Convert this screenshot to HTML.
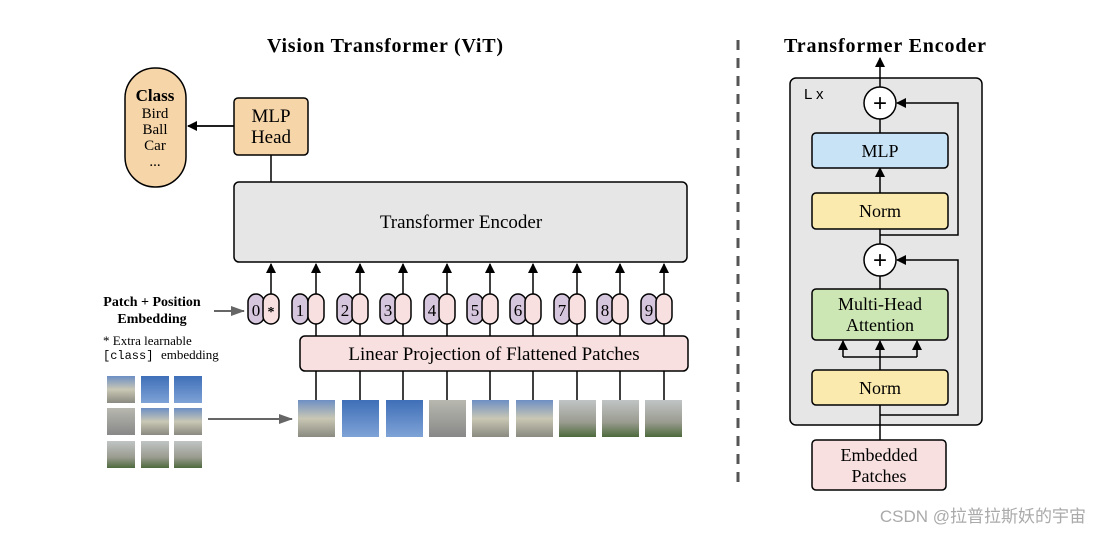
<!DOCTYPE html>
<html><head><style>
body{margin:0;background:#fff;}
svg{display:block;font-family:"Liberation Serif",serif;}
</style></head><body>
<svg width="1100" height="534" viewBox="0 0 1100 534" xmlns="http://www.w3.org/2000/svg">
<defs>
<marker id="a" markerWidth="10" markerHeight="10" refX="9" refY="5" orient="auto" markerUnits="userSpaceOnUse"><path d="M0,0 L10,5 L0,10 z" fill="#000"/></marker>
<marker id="g" markerWidth="14" markerHeight="10" refX="13" refY="5" orient="auto" markerUnits="userSpaceOnUse"><path d="M0,0 L14,5 L0,10 z" fill="#666"/></marker>
<linearGradient id="sky" x1="0" y1="0" x2="0" y2="1"><stop offset="0" stop-color="#3f6fb8"/><stop offset="1" stop-color="#7fa3d6"/></linearGradient>
<linearGradient id="bld" x1="0" y1="0" x2="0" y2="1"><stop offset="0" stop-color="#b8b8b0"/><stop offset="1" stop-color="#888"/></linearGradient>
<linearGradient id="mix" x1="0" y1="0" x2="0" y2="1"><stop offset="0" stop-color="#6d8fc4"/><stop offset="0.5" stop-color="#c9c7b4"/><stop offset="1" stop-color="#8a8a80"/></linearGradient>
<linearGradient id="grn" x1="0" y1="0" x2="0" y2="1"><stop offset="0" stop-color="#c0c4c4"/><stop offset="0.6" stop-color="#9a9c90"/><stop offset="1" stop-color="#4d6a3c"/></linearGradient>
</defs>

<text x="385" y="52" font-size="20" font-weight="bold" text-anchor="middle" textLength="236">Vision Transformer (ViT)</text>
<text x="885" y="52" font-size="20" font-weight="bold" text-anchor="middle" textLength="202">Transformer Encoder</text>
<line x1="738" y1="40" x2="738" y2="490" stroke="#555" stroke-width="3" stroke-dasharray="10,8"/>

<rect x="125" y="68" width="61" height="119" rx="30" fill="#f6d5a8" stroke="#000" stroke-width="1.5"/>
<text x="155" y="101" font-size="17" font-weight="bold" text-anchor="middle">Class</text>
<text x="155" y="118" font-size="15" text-anchor="middle">Bird</text>
<text x="155" y="134" font-size="15" text-anchor="middle">Ball</text>
<text x="155" y="150" font-size="15" text-anchor="middle">Car</text>
<text x="155" y="166" font-size="15" text-anchor="middle">...</text>

<rect x="234" y="98" width="74" height="57" rx="4" fill="#f6d5a8" stroke="#000" stroke-width="1.5"/>
<text x="271" y="122" font-size="19" text-anchor="middle">MLP</text>
<text x="271" y="143" font-size="19" text-anchor="middle">Head</text>
<line x1="234" y1="126" x2="188" y2="126" stroke="#000" stroke-width="1.8" marker-end="url(#a)"/>
<line x1="271" y1="155" x2="271" y2="182" stroke="#000" stroke-width="1.5"/>

<rect x="234" y="182" width="453" height="80" rx="5" fill="#e6e6e6" stroke="#000" stroke-width="1.5"/>
<text x="461" y="228" font-size="19" text-anchor="middle">Transformer Encoder</text>

<text x="152" y="306" font-size="14" font-weight="bold" text-anchor="middle">Patch + Position</text>
<text x="152" y="323" font-size="14" font-weight="bold" text-anchor="middle">Embedding</text>
<line x1="214" y1="311" x2="244" y2="311" stroke="#666" stroke-width="2" marker-end="url(#g)"/>
<text x="103" y="345" font-size="13">* Extra learnable</text>
<text x="103" y="359" font-size="12" font-family="Liberation Mono,monospace">[class]</text>
<text x="161" y="359" font-size="13">embedding</text>

<rect x="300" y="336" width="388" height="35" rx="5" fill="#f7e0df" stroke="#000" stroke-width="1.5"/>
<text x="494" y="360" font-size="19" text-anchor="middle">Linear Projection of Flattened Patches</text>

<g stroke="#000" stroke-width="1.5">
<rect x="248" y="294" width="16" height="30" rx="8" fill="#d5c5dd"/>
<rect x="263" y="294" width="16" height="30" rx="8" fill="#f7e0df"/>
<rect x="292" y="294" width="16" height="30" rx="8" fill="#d5c5dd"/><rect x="308" y="294" width="16" height="30" rx="8" fill="#f7e0df"/>
<rect x="337" y="294" width="16" height="30" rx="8" fill="#d5c5dd"/><rect x="352" y="294" width="16" height="30" rx="8" fill="#f7e0df"/>
<rect x="380" y="294" width="16" height="30" rx="8" fill="#d5c5dd"/><rect x="395" y="294" width="16" height="30" rx="8" fill="#f7e0df"/>
<rect x="424" y="294" width="16" height="30" rx="8" fill="#d5c5dd"/><rect x="439" y="294" width="16" height="30" rx="8" fill="#f7e0df"/>
<rect x="467" y="294" width="16" height="30" rx="8" fill="#d5c5dd"/><rect x="482" y="294" width="16" height="30" rx="8" fill="#f7e0df"/>
<rect x="510" y="294" width="16" height="30" rx="8" fill="#d5c5dd"/><rect x="525" y="294" width="16" height="30" rx="8" fill="#f7e0df"/>
<rect x="554" y="294" width="16" height="30" rx="8" fill="#d5c5dd"/><rect x="569" y="294" width="16" height="30" rx="8" fill="#f7e0df"/>
<rect x="597" y="294" width="16" height="30" rx="8" fill="#d5c5dd"/><rect x="612" y="294" width="16" height="30" rx="8" fill="#f7e0df"/>
<rect x="641" y="294" width="16" height="30" rx="8" fill="#d5c5dd"/><rect x="656" y="294" width="16" height="30" rx="8" fill="#f7e0df"/>
</g>
<text x="256" y="316" font-size="17" text-anchor="middle">0</text>
<text x="271" y="316" font-size="14" font-weight="bold" text-anchor="middle">*</text>
<g font-size="17" text-anchor="middle">
<text x="300" y="316">1</text><text x="345" y="316">2</text><text x="388" y="316">3</text><text x="432" y="316">4</text><text x="475" y="316">5</text><text x="518" y="316">6</text><text x="562" y="316">7</text><text x="605" y="316">8</text><text x="649" y="316">9</text>
</g>
<g stroke="#000" stroke-width="1.5">
<line x1="271" y1="294" x2="271" y2="264" marker-end="url(#a)"/>
<line x1="316" y1="294" x2="316" y2="264" marker-end="url(#a)"/>
<line x1="360" y1="294" x2="360" y2="264" marker-end="url(#a)"/>
<line x1="403" y1="294" x2="403" y2="264" marker-end="url(#a)"/>
<line x1="447" y1="294" x2="447" y2="264" marker-end="url(#a)"/>
<line x1="490" y1="294" x2="490" y2="264" marker-end="url(#a)"/>
<line x1="533" y1="294" x2="533" y2="264" marker-end="url(#a)"/>
<line x1="577" y1="294" x2="577" y2="264" marker-end="url(#a)"/>
<line x1="620" y1="294" x2="620" y2="264" marker-end="url(#a)"/>
<line x1="664" y1="294" x2="664" y2="264" marker-end="url(#a)"/>
<line x1="316" y1="324" x2="316" y2="336"/><line x1="360" y1="324" x2="360" y2="336"/><line x1="403" y1="324" x2="403" y2="336"/><line x1="447" y1="324" x2="447" y2="336"/><line x1="490" y1="324" x2="490" y2="336"/><line x1="533" y1="324" x2="533" y2="336"/><line x1="577" y1="324" x2="577" y2="336"/><line x1="620" y1="324" x2="620" y2="336"/><line x1="664" y1="324" x2="664" y2="336"/>
<line x1="316" y1="371" x2="316" y2="400"/><line x1="360" y1="371" x2="360" y2="400"/><line x1="403" y1="371" x2="403" y2="400"/><line x1="447" y1="371" x2="447" y2="400"/><line x1="490" y1="371" x2="490" y2="400"/><line x1="533" y1="371" x2="533" y2="400"/><line x1="577" y1="371" x2="577" y2="400"/><line x1="620" y1="371" x2="620" y2="400"/><line x1="664" y1="371" x2="664" y2="400"/>
</g>

<rect x="298" y="400" width="37" height="37" fill="url(#mix)"/>
<rect x="342" y="400" width="37" height="37" fill="url(#sky)"/>
<rect x="386" y="400" width="37" height="37" fill="url(#sky)"/>
<rect x="429" y="400" width="37" height="37" fill="url(#bld)"/>
<rect x="472" y="400" width="37" height="37" fill="url(#mix)"/>
<rect x="516" y="400" width="37" height="37" fill="url(#mix)"/>
<rect x="559" y="400" width="37" height="37" fill="url(#grn)"/>
<rect x="602" y="400" width="37" height="37" fill="url(#grn)"/>
<rect x="645" y="400" width="37" height="37" fill="url(#grn)"/>

<rect x="107" y="376" width="28" height="27" fill="url(#mix)"/>
<rect x="141" y="376" width="28" height="27" fill="url(#sky)"/>
<rect x="174" y="376" width="28" height="27" fill="url(#sky)"/>
<rect x="107" y="408" width="28" height="27" fill="url(#bld)"/>
<rect x="141" y="408" width="28" height="27" fill="url(#mix)"/>
<rect x="174" y="408" width="28" height="27" fill="url(#mix)"/>
<rect x="107" y="441" width="28" height="27" fill="url(#grn)"/>
<rect x="141" y="441" width="28" height="27" fill="url(#grn)"/>
<rect x="174" y="441" width="28" height="27" fill="url(#grn)"/>
<line x1="208" y1="419" x2="292" y2="419" stroke="#666" stroke-width="2" marker-end="url(#g)"/>

<rect x="790" y="78" width="192" height="347" rx="6" fill="#e6e6e6" stroke="#000" stroke-width="1.5"/>
<text x="804" y="99" font-size="15" font-family="Liberation Sans,sans-serif">L x</text>
<g stroke="#000" stroke-width="1.5">
<line x1="880" y1="78" x2="880" y2="58" marker-end="url(#a)"/>
<line x1="880" y1="87" x2="880" y2="78"/>
<line x1="880" y1="119" x2="880" y2="133"/>
<line x1="880" y1="193" x2="880" y2="168" marker-end="url(#a)"/>
<line x1="880" y1="229" x2="880" y2="244"/>
<polyline points="880,235 958,235 958,103 897,103" fill="none" marker-end="url(#a)"/>
<line x1="880" y1="276" x2="880" y2="289"/>
<polyline points="880,415 958,415 958,260 897,260" fill="none" marker-end="url(#a)"/>
<line x1="880" y1="440" x2="880" y2="405"/>
<line x1="880" y1="370" x2="880" y2="341" marker-end="url(#a)"/>
<polyline points="843,357 843,341" fill="none" marker-end="url(#a)"/>
<polyline points="917,357 917,341" fill="none" marker-end="url(#a)"/>
<line x1="843" y1="357" x2="917" y2="357"/>
</g>
<circle cx="880" cy="103" r="16" fill="#fff" stroke="#000" stroke-width="1.5"/>
<text x="880" y="111" font-size="24" text-anchor="middle" font-family="Liberation Sans,sans-serif">+</text>
<circle cx="880" cy="260" r="16" fill="#fff" stroke="#000" stroke-width="1.5"/>
<text x="880" y="268" font-size="24" text-anchor="middle" font-family="Liberation Sans,sans-serif">+</text>
<rect x="812" y="133" width="136" height="35" rx="4" fill="#c7e3f5" stroke="#000" stroke-width="1.5"/>
<text x="880" y="157" font-size="18" text-anchor="middle">MLP</text>
<rect x="812" y="193" width="136" height="36" rx="4" fill="#faeaad" stroke="#000" stroke-width="1.5"/>
<text x="880" y="217" font-size="18" text-anchor="middle">Norm</text>
<rect x="812" y="289" width="136" height="51" rx="4" fill="#cde7b4" stroke="#000" stroke-width="1.5"/>
<text x="880" y="310" font-size="18" text-anchor="middle">Multi-Head</text>
<text x="880" y="331" font-size="18" text-anchor="middle">Attention</text>
<rect x="812" y="370" width="136" height="35" rx="4" fill="#faeaad" stroke="#000" stroke-width="1.5"/>
<text x="880" y="394" font-size="18" text-anchor="middle">Norm</text>
<rect x="812" y="440" width="134" height="50" rx="4" fill="#f7e0df" stroke="#000" stroke-width="1.5"/>
<text x="879" y="461" font-size="18" text-anchor="middle">Embedded</text>
<text x="879" y="482" font-size="18" text-anchor="middle">Patches</text>

<text x="1086" y="522" font-size="17" fill="#aaa" text-anchor="end" font-family="Liberation Sans,'Noto Sans CJK SC',sans-serif">CSDN @拉普拉斯妖的宇宙</text>
</svg>
</body></html>
